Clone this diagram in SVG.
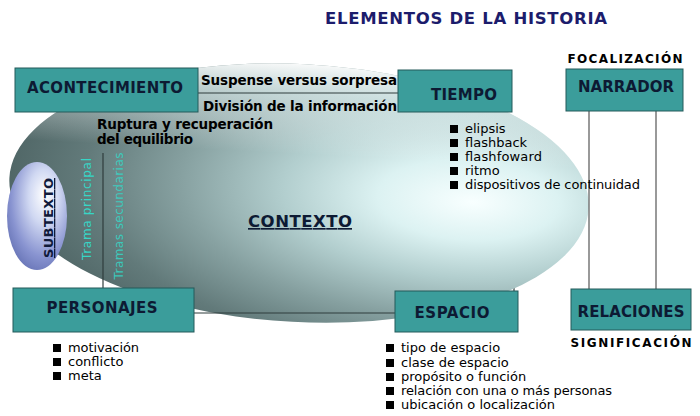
<svg xmlns="http://www.w3.org/2000/svg" width="700" height="416" viewBox="0 0 700 416">
<defs>
<radialGradient id="gCtx" cx="0.76" cy="0.46" r="0.78" fx="0.8" fy="0.5">
<stop offset="0" stop-color="#f8ffff"/>
<stop offset="0.2" stop-color="#dcf2f2"/>
<stop offset="0.4" stop-color="#b2cece"/>
<stop offset="0.62" stop-color="#86a0a0"/>
<stop offset="0.82" stop-color="#627a7a"/>
<stop offset="1" stop-color="#4e6464"/>
</radialGradient>
<linearGradient id="gTop" x1="0" y1="0" x2="0" y2="1">
<stop offset="0" stop-color="#ffffff" stop-opacity="0.95"/>
<stop offset="0.12" stop-color="#eaf8f8" stop-opacity="0.6"/>
<stop offset="0.35" stop-color="#ffffff" stop-opacity="0"/>
</linearGradient>
<radialGradient id="gSub" cx="0.6" cy="0.35" r="0.72" fx="0.62" fy="0.3">
<stop offset="0" stop-color="#ffffff"/>
<stop offset="0.35" stop-color="#d0d8f2"/>
<stop offset="0.75" stop-color="#8893d0"/>
<stop offset="1" stop-color="#6572b4"/>
</radialGradient>
<style>
.box{fill:#3b9d9b;stroke:#255a5a;stroke-width:1}
.lbl{font-family:"DejaVu Sans",Verdana,sans-serif;font-weight:bold;font-size:15px;fill:#0d1a33;text-anchor:middle}
.sub{font-family:"DejaVu Sans",Verdana,sans-serif;font-weight:bold;font-size:13.5px;fill:#000}
.cap{font-family:"DejaVu Sans",Verdana,sans-serif;font-weight:bold;font-size:12px;fill:#000;text-anchor:middle}
.bul{font-family:"DejaVu Sans",Verdana,sans-serif;font-size:13px;fill:#000}
.sq{fill:#000}
.ln{stroke:#2f3d3d;stroke-width:1.2;fill:none}
.lg{stroke:#555;stroke-width:1.2;fill:none}
.trama{font-family:"DejaVu Sans",Verdana,sans-serif;font-size:12px;fill:#36d6c6}
</style>
</defs>
<rect width="700" height="416" fill="#ffffff"/>
<text x="466" y="24" font-family="DejaVu Sans,Verdana,sans-serif" font-weight="bold" font-size="16.5" fill="#1c1c6c" text-anchor="middle" textLength="282">ELEMENTOS DE LA HISTORIA</text>

<g id="connectors-back">
<line class="ln" x1="514" y1="262" x2="514" y2="291"/>
</g>

<g id="contexto">
<ellipse cx="299" cy="193" rx="290" ry="129" transform="rotate(3 299 193)" fill="url(#gCtx)"/>
<ellipse cx="299" cy="193" rx="290" ry="129" transform="rotate(3 299 193)" fill="url(#gTop)"/>
<text x="300" y="227" font-family="DejaVu Sans,Verdana,sans-serif" font-weight="bold" font-size="16.5" fill="#0d1a33" text-anchor="middle" text-decoration="underline" textLength="104">CONTEXTO</text>
</g>

<g id="connectors">
<line class="ln" x1="198" y1="93" x2="398" y2="93"/>
<line class="ln" x1="103" y1="153" x2="103" y2="288"/>
<line class="ln" x1="194" y1="313" x2="395" y2="313"/>
<line class="lg" x1="589" y1="111" x2="589" y2="289"/>
<line class="lg" x1="656" y1="111" x2="656" y2="289"/>
</g>

<g id="subtexto">
<ellipse cx="37" cy="216" rx="30" ry="54" fill="url(#gSub)"/>
<text transform="translate(53 218) rotate(-90)" x="0" y="0" font-family="DejaVu Sans,Verdana,sans-serif" font-weight="bold" font-size="13" fill="#101a3a" text-anchor="middle" text-decoration="underline" textLength="80">SUBTEXTO</text>
</g>

<g id="tramas">
<text class="trama" transform="translate(91 209) rotate(-90)" text-anchor="middle" textLength="102">Trama principal</text>
<text class="trama" transform="translate(123 216) rotate(-90)" text-anchor="middle" textLength="127" opacity="0.85">Tramas secundarias</text>
</g>

<g id="acontecimiento">
<rect class="box" x="15" y="68" width="183" height="44"/>
<text class="lbl" x="105" y="93" textLength="156">ACONTECIMIENTO</text>
</g>

<g id="suspense">
<text class="sub" x="201" y="85" textLength="196">Suspense versus sorpresa</text>
<text class="sub" x="203" y="111" textLength="194">División de la información</text>
</g>

<g id="ruptura">
<text class="sub" x="97" y="129" textLength="176">Ruptura y recuperación</text>
<text class="sub" x="97" y="144" textLength="96">del equilibrio</text>
</g>

<g id="tiempo">
<rect class="box" x="398" y="70" width="114" height="42"/>
<text class="lbl" x="464" y="100" textLength="66">TIEMPO</text>
<rect class="sq" x="450" y="125" width="8" height="8"/>
<text class="bul" x="465" y="133">elipsis</text>
<rect class="sq" x="450" y="139" width="8" height="8"/>
<text class="bul" x="465" y="147">flashback</text>
<rect class="sq" x="450" y="153" width="8" height="8"/>
<text class="bul" x="465" y="161" textLength="77">flashfoward</text>
<rect class="sq" x="450" y="167" width="8" height="8"/>
<text class="bul" x="465" y="175">ritmo</text>
<rect class="sq" x="450" y="181" width="8" height="8"/>
<text class="bul" x="465" y="189" textLength="175">dispositivos de continuidad</text>
</g>

<g id="narrador">
<text class="cap" x="625" y="63" textLength="115">FOCALIZACIÓN</text>
<rect class="box" x="566" y="69" width="117" height="42"/>
<text class="lbl" x="626" y="92" textLength="96">NARRADOR</text>
</g>

<g id="personajes">
<rect class="box" x="13" y="288" width="181" height="44"/>
<text class="lbl" x="102" y="313" textLength="111">PERSONAJES</text>
<rect class="sq" x="53" y="344" width="8" height="8"/>
<text class="bul" x="68" y="352" textLength="71">motivación</text>
<rect class="sq" x="53" y="358" width="8" height="8"/>
<text class="bul" x="68" y="366">conflicto</text>
<rect class="sq" x="53" y="372" width="8" height="8"/>
<text class="bul" x="68" y="380">meta</text>
</g>

<g id="espacio">
<rect class="box" x="395" y="291" width="123" height="41"/>
<text class="lbl" x="452" y="318" textLength="75">ESPACIO</text>
<rect class="sq" x="386" y="344" width="8" height="8"/>
<text class="bul" x="401" y="352">tipo de espacio</text>
<rect class="sq" x="386" y="359" width="8" height="8"/>
<text class="bul" x="401" y="367">clase de espacio</text>
<rect class="sq" x="386" y="373" width="8" height="8"/>
<text class="bul" x="401" y="381">propósito o función</text>
<rect class="sq" x="386" y="387" width="8" height="8"/>
<text class="bul" x="401" y="395" textLength="211">relación con una o más personas</text>
<rect class="sq" x="386" y="401" width="8" height="8"/>
<text class="bul" x="401" y="409">ubicación o localización</text>
</g>

<g id="relaciones">
<rect class="box" x="571" y="289" width="120" height="41"/>
<text class="lbl" x="631" y="317" textLength="107">RELACIONES</text>
<text class="cap" x="631" y="347" textLength="121">SIGNIFICACIÓN</text>
</g>
</svg>
